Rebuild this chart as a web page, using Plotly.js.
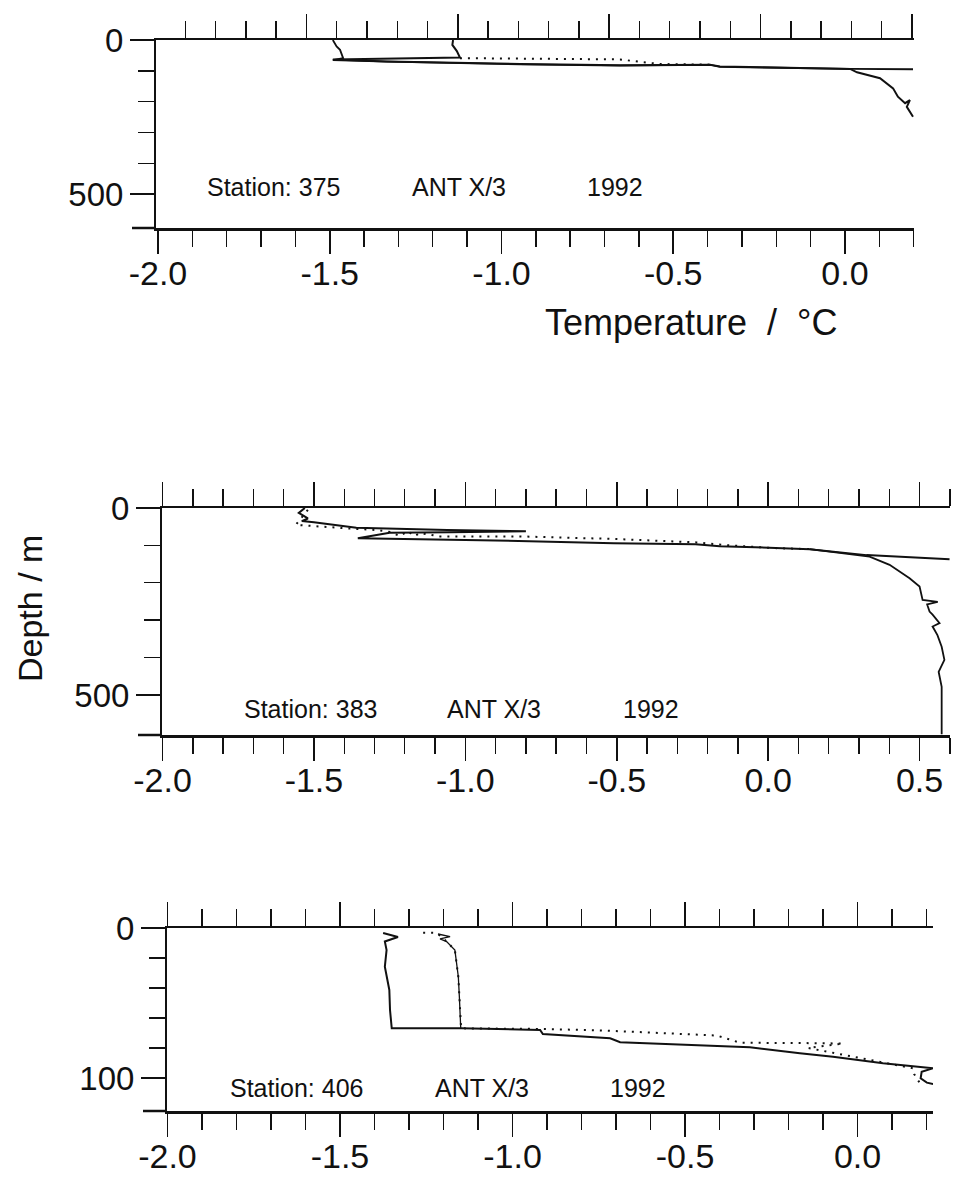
<!DOCTYPE html>
<html>
<head>
<meta charset="utf-8">
<script src="https://cdn.plot.ly/plotly-3.0.1.min.js"></script>
<style>
  html, body { margin: 0; padding: 0; background: #ffffff; }
  #chart { width: 955px; height: 1179px; }
</style>
</head>
<body>
<div id="chart"></div>
<script>
// ---------------- DATA (temperature °C, depth m) ----------------
// Station 375
const st375_solidA_T = [-1.491, -1.480, -1.470, -1.463, -1.461, -1.491, -1.334, -0.946, -0.655, -0.393, -0.364, 0.015, 0.198];
const st375_solidA_D = [0, 21, 32, 51, 59, 65, 70, 79, 83, 81, 87, 94, 95];
const st375_solidB_T = [-1.141, -1.143, -1.130, -1.125, -1.121, -1.491, -1.334, -0.946, -0.655, -0.393, -0.364, 0.015, 0.035, 0.102, 0.140, 0.154, 0.175, 0.189, 0.180, 0.198];
const st375_solidB_D = [0, 16, 36, 48, 57, 63, 70, 78, 82, 80, 86, 94, 105, 124, 157, 184, 205, 195, 217, 249];
const st375_dot_T = [-1.121, -0.888, -0.713, -0.655, -0.597, -0.539, -0.393];
const st375_dot_D = [59, 60, 62, 63, 71, 78, 80];

// Station 383
const st383_solidA_T = [-1.53, -1.55, -1.52, -1.54, -1.50, -1.36, -1.06, -0.80, -1.05, -1.25, -1.355, -1.20, -0.95, -0.51, -0.24, -0.16, 0.137, 0.325, 0.599];
const st383_solidA_D = [0, 13, 28, 35, 38, 53, 59, 62, 65, 66, 81, 83, 86, 94, 97, 102, 110, 126, 137];
const st383_solidB_T = [0.137, 0.335, 0.401, 0.467, 0.500, 0.510, 0.560, 0.525, 0.533, 0.543, 0.566, 0.543, 0.559, 0.573, 0.582, 0.563, 0.573, 0.573, 0.573];
const st383_solidB_D = [110, 130, 152, 188, 210, 246, 251, 258, 277, 285, 308, 317, 340, 371, 406, 438, 478, 576, 605];
const st383_dot_T = [-1.52, -1.56, -1.38, -1.293, -1.249, -1.216, -1.190, -1.167, -1.150, -1.084, -0.820, -0.500, -0.236, -0.127, 0.015, 0.137];
const st383_dot_D = [5, 45, 55, 59, 64, 75, 62, 75, 67, 76, 76, 83, 92, 100, 107, 110];

// Station 406
const st406_solidA_T = [-1.375, -1.332, -1.370, -1.365, -1.370, -1.357, -1.355, -1.350, -1.149, -0.920, -0.912, -0.717, -0.688, -0.312, -0.167, -0.071, 0.074, 0.172, 0.219, 0.186, 0.183, 0.201, 0.219];
const st406_solidA_D = [3.3, 6, 9, 14.7, 25.8, 41.3, 54.7, 66.9, 66.9, 68, 70.7, 73.5, 76.2, 79.5, 83.5, 85.8, 90.2, 92.5, 93.5, 95.8, 100.2, 103.1, 104];
const st406_solidB_T = [-1.216, -1.181, -1.210, -1.191, -1.167, -1.162, -1.157, -1.154, -1.152, -1.150];
const st406_solidB_D = [4, 5.8, 7.3, 9.1, 14.7, 22.5, 32.5, 45.8, 54.7, 66.9];
const st406_dot_T = [-1.259, -1.219, -1.191, -1.167, -1.157, -1.152, -1.149, -0.920, -0.755, -0.601, -0.442, -0.407, -0.375, -0.341, -0.167, -0.042, -0.143, -0.036, 0.074, 0.161, 0.164, 0.187];
const st406_dot_D = [3.1, 3.3, 9, 14.7, 32.5, 54.7, 66.9, 67.3, 68.2, 69.7, 71.3, 71.7, 74, 76.5, 76.7, 77, 80, 84.7, 90, 93.5, 97.3, 105.8];

// Tick labels
const tempTickVals = [-2.0, -1.5, -1.0, -0.5, 0.0, 0.5];
const tempTickText = ['-2.0', '-1.5', '-1.0', '-0.5', '0.0', '0.5'];
const depthTickValsDeep = [0, 500];
const depthTickTextDeep = ['0', '500'];
const depthMinorDeep = [100, 200, 300, 400];
const depthTickValsShallow = [0, 100];
const depthTickTextShallow = ['0', '100'];
const depthMinorShallow = [20, 40, 60, 80];

const stationNames = ['Station: 375', 'Station: 383', 'Station: 406'];
const cruiseName = 'ANT X/3';
const yearName = '1992';
const xTitleText = 'Temperature\u00A0\u00A0/\u00A0\u00A0°C';
const yTitleText = 'Depth / m';

// ---------------- LAYOUT GEOMETRY (pixels) ----------------
const W = 955, H = 1179;
const px = v => v / W;
const py = v => 1 - v / H;
const FONT = 'Liberation Sans, Arial, Helvetica, sans-serif';
const INK = '#111111';

const panels = [
  { xd: [156, 914], yd: [40, 228], xr: [-2.0058, 0.2009], xtr: [-1.9967, 0.5066], yr: [610.4, 0], ytv: depthTickValsDeep, ytt: depthTickTextDeep, ymin: depthMinorDeep,
    labelY: 187, stX: 205, antX: 410, yrX: 585 },
  { xd: [162, 950], yd: [508, 735], xr: [-2.0017, 0.6005], xtr: [-2.0017, 0.6005], yr: [607, 0], ytv: depthTickValsDeep, ytt: depthTickTextDeep, ymin: depthMinorDeep,
    labelY: 709, stX: 242, antX: 445, yrX: 621 },
  { xd: [167, 933], yd: [928, 1111], xr: [-2.0014, 0.2188], xtr: [-2.0014, 0.2188], yr: [122, 0], ytv: depthTickValsShallow, ytt: depthTickTextShallow, ymin: depthMinorShallow,
    labelY: 1088, stX: 228, antX: 433, yrX: 608 }
];

const layout = {
  width: W, height: H,
  margin: { l: 0, r: 0, t: 0, b: 0 },
  paper_bgcolor: '#ffffff', plot_bgcolor: 'rgba(0,0,0,0)',
  showlegend: false,
  font: { family: FONT, color: INK },
  annotations: [],
  shapes: []
};

const axisTraces = [];

panels.forEach((p, i) => {
  const nb = i * 2 + 1, nt = i * 2 + 2;
  const xb = 'xaxis' + (nb === 1 ? '' : nb);
  const xt = 'xaxis' + nt;
  const ya = 'yaxis' + (i === 0 ? '' : (i + 1));
  const xbRef = 'x' + (nb === 1 ? '' : nb);
  const xtRef = 'x' + nt;
  const yRef = 'y' + (i === 0 ? '' : (i + 1));
  layout[xb] = {
    domain: [px(p.xd[0]), px(p.xd[1])], anchor: yRef, side: 'bottom',
    range: p.xr, autorange: false, fixedrange: true,
    tickmode: 'array', tickvals: tempTickVals, ticktext: tempTickText,
    ticks: 'outside', ticklen: 23, tickwidth: 1.6, tickcolor: INK,
    minor: { ticks: 'outside', ticklen: 16, tickwidth: 1.4, tickcolor: INK, tick0: 0, dtick: 0.1, showgrid: false },
    showline: true, linewidth: 2.5, linecolor: INK,
    showgrid: false, zeroline: false,
    ticklabelstandoff: -9,
    tickfont: { family: FONT, size: 34, color: INK }
  };
  layout[xt] = {
    overlaying: xbRef, anchor: yRef, side: 'top',
    range: p.xtr, autorange: false, fixedrange: true,
    tickmode: 'linear', tick0: 0, dtick: 0.5,
    ticks: 'outside', ticklen: 24, tickwidth: 1.6, tickcolor: INK,
    minor: { ticks: 'outside', ticklen: 17, tickwidth: 1.4, tickcolor: INK, tick0: 0, dtick: 0.1, showgrid: false },
    showticklabels: false,
    showline: true, linewidth: 2.5, linecolor: INK,
    showgrid: false, zeroline: false
  };
  layout[ya] = {
    domain: [py(p.yd[1]), py(p.yd[0])], anchor: xbRef,
    range: p.yr, autorange: false, fixedrange: true,
    tickmode: 'array', tickvals: p.ytv, ticktext: p.ytt,
    ticks: 'outside', ticklen: 24, tickwidth: 1.6, tickcolor: INK,
    minor: { tickmode: 'array', tickvals: p.ymin, ticks: 'outside', ticklen: 16, tickwidth: 1.4, tickcolor: INK, showgrid: false },
    showline: true, linewidth: 2, linecolor: INK,
    showgrid: false, zeroline: false,
    tickfont: { family: FONT, size: 33, color: INK }
  };
  // invisible placeholder so that the upper temperature scale is drawn
  axisTraces.push({ type: 'scatter', mode: 'markers', x: [p.xtr[0]], y: [0], xaxis: xtRef, yaxis: yRef,
                    marker: { size: 1, opacity: 0 }, hoverinfo: 'skip', showlegend: false });
  // extension of the lower frame line to the left of the depth axis
  layout.shapes.push({
    type: 'line', xref: 'paper', yref: 'paper',
    x0: px(p.xd[0] - 24), x1: px(p.xd[0]), y0: py(p.yd[1]), y1: py(p.yd[1]),
    line: { color: INK, width: 2.5 }
  });
  // station labels
  [[stationNames[i], p.stX], [cruiseName, p.antX], [yearName, p.yrX]].forEach(([t, x]) => {
    layout.annotations.push({
      text: t, xref: 'paper', yref: 'paper', x: px(x), y: py(p.labelY),
      xanchor: 'left', yanchor: 'middle', showarrow: false,
      font: { family: FONT, size: 25, color: INK }
    });
  });
});

layout.annotations.push({
  text: xTitleText, xref: 'paper', yref: 'paper', x: px(691), y: py(322),
  xanchor: 'center', yanchor: 'middle', showarrow: false,
  font: { family: FONT, size: 36, color: INK }
});
layout.annotations.push({
  text: yTitleText, xref: 'paper', yref: 'paper', x: px(30), y: py(609),
  xanchor: 'center', yanchor: 'middle', showarrow: false, textangle: -90,
  font: { family: FONT, size: 34, color: INK }
});

function solid(T, D, xa, ya, w) {
  return { type: 'scatter', mode: 'lines', x: T, y: D, xaxis: xa, yaxis: ya,
           line: { color: INK, width: w || 2 }, hoverinfo: 'skip', cliponaxis: true };
}
function dotted(T, D, xa, ya) {
  return { type: 'scatter', mode: 'lines', x: T, y: D, xaxis: xa, yaxis: ya,
           line: { color: INK, width: 2, dash: '2px,6px' }, hoverinfo: 'skip', cliponaxis: true };
}

const data = axisTraces.concat([
  solid(st375_solidA_T, st375_solidA_D, 'x', 'y', 1.8),
  solid(st375_solidB_T, st375_solidB_D, 'x', 'y', 2),
  dotted(st375_dot_T, st375_dot_D, 'x', 'y'),
  solid(st383_solidA_T, st383_solidA_D, 'x3', 'y2', 2),
  solid(st383_solidB_T, st383_solidB_D, 'x3', 'y2', 1.8),
  dotted(st383_dot_T, st383_dot_D, 'x3', 'y2'),
  solid(st406_solidA_T, st406_solidA_D, 'x5', 'y3', 2),
  solid(st406_solidB_T, st406_solidB_D, 'x5', 'y3', 1.3),
  dotted(st406_dot_T, st406_dot_D, 'x5', 'y3')
]);

Plotly.newPlot('chart', data, layout, { staticPlot: true, displayModeBar: false });
</script>
</body>
</html>
